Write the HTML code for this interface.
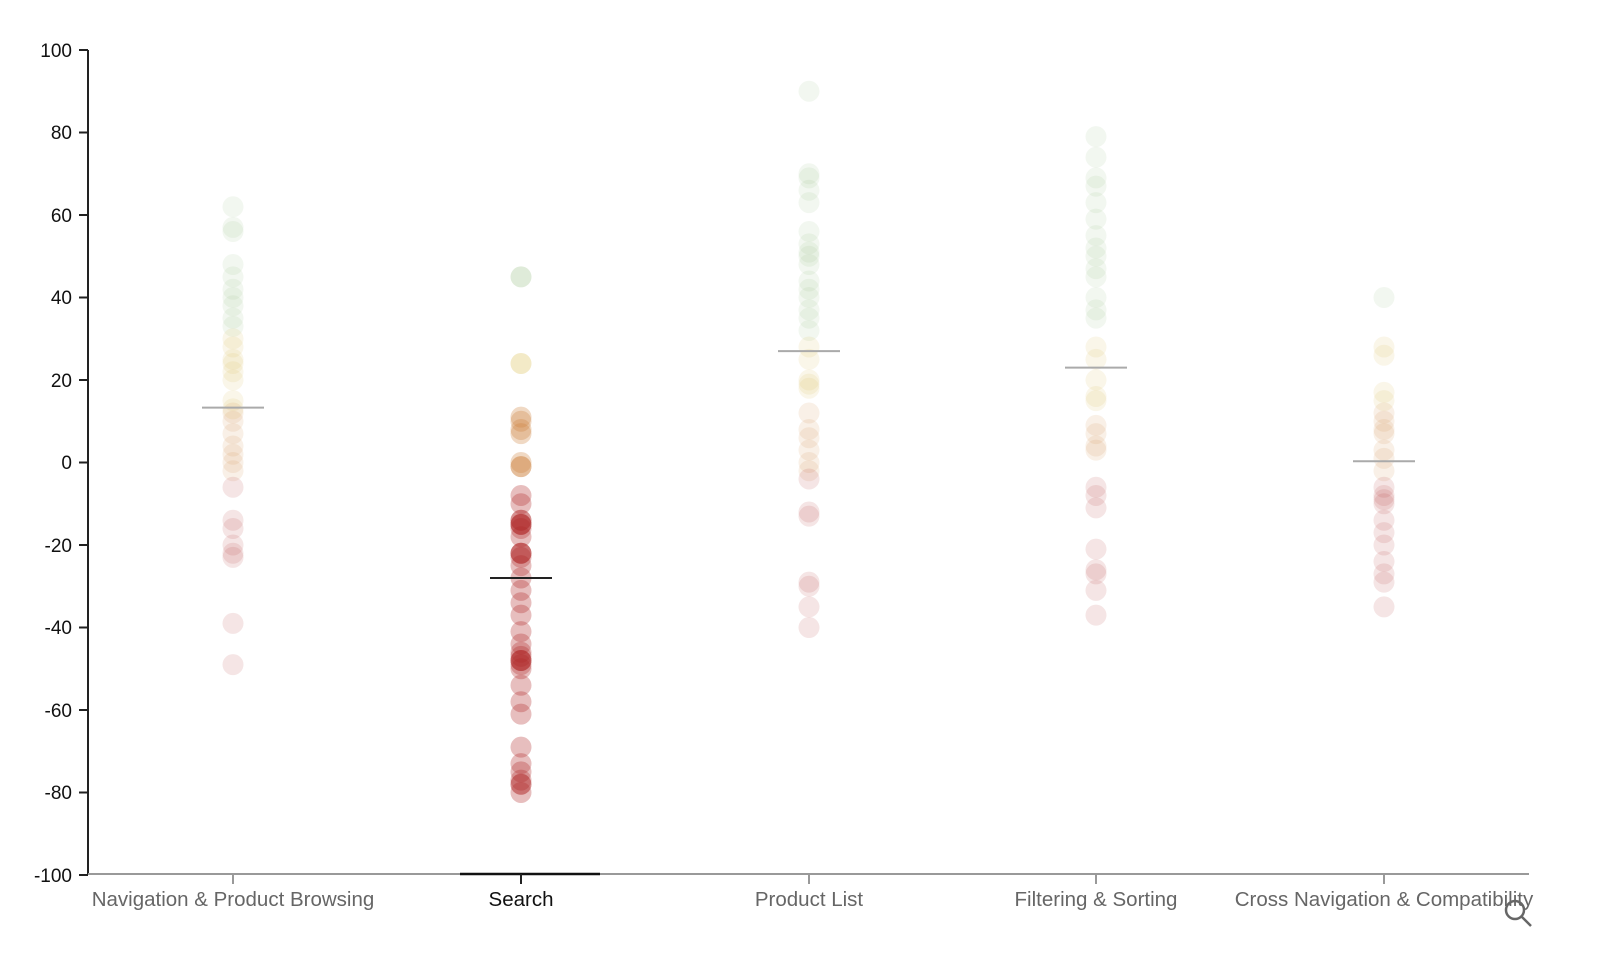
<!DOCTYPE html>
<html><head><meta charset="utf-8"><style>
html,body{margin:0;padding:0;background:#fff;width:1600px;height:960px;overflow:hidden}
svg text{font-family:"Liberation Sans",Arial,sans-serif}
</style></head><body>
<svg id="s" width="1600" height="960" xmlns="http://www.w3.org/2000/svg">
<g id="dots"></g>
<line x1="88" y1="50" x2="88" y2="875" stroke="#222" stroke-width="2"/>
<g stroke="#222" stroke-width="2">
<line x1="79" y1="50" x2="88" y2="50"/><line x1="79" y1="132.5" x2="88" y2="132.5"/>
<line x1="79" y1="215" x2="88" y2="215"/><line x1="79" y1="297.5" x2="88" y2="297.5"/>
<line x1="79" y1="380" x2="88" y2="380"/><line x1="79" y1="462.5" x2="88" y2="462.5"/>
<line x1="79" y1="545" x2="88" y2="545"/><line x1="79" y1="627.5" x2="88" y2="627.5"/>
<line x1="79" y1="710" x2="88" y2="710"/><line x1="79" y1="792.5" x2="88" y2="792.5"/>
<line x1="79" y1="875" x2="88" y2="875"/>
</g>
<g font-size="19" fill="#111" text-anchor="end">
<text x="72" y="57">100</text><text x="72" y="139">80</text><text x="72" y="222">60</text>
<text x="72" y="304">40</text><text x="72" y="387">20</text><text x="72" y="469">0</text>
<text x="72" y="552">-20</text><text x="72" y="634">-40</text><text x="72" y="717">-60</text>
<text x="72" y="799">-80</text><text x="72" y="882">-100</text>
</g>
<line x1="88" y1="874" x2="1529" y2="874" stroke="#999" stroke-width="2"/>
<line x1="460" y1="874" x2="600" y2="874" stroke="#111" stroke-width="2.5"/>
<g stroke="#999" stroke-width="2">
<line x1="233" y1="874" x2="233" y2="884"/><line x1="521" y1="874" x2="521" y2="884" stroke="#222"/>
<line x1="809" y1="874" x2="809" y2="884"/><line x1="1096" y1="874" x2="1096" y2="884"/>
<line x1="1384" y1="874" x2="1384" y2="884"/>
</g>
<g font-size="20.5" fill="#666" text-anchor="middle">
<text x="233" y="906">Navigation &amp; Product Browsing</text>
<text x="521" y="906" fill="#111">Search</text>
<text x="809" y="906">Product List</text>
<text x="1096" y="906">Filtering &amp; Sorting</text>
<text x="1384" y="906">Cross Navigation &amp; Compatibility</text>
</g>
<g stroke="#666" stroke-width="2.5" fill="none">
<circle cx="1515" cy="910" r="9"/><line x1="1522" y1="917" x2="1531" y2="926"/>
</g>
</svg>
<script>
var Y=function(v){return 462.5-v*4.125};
var data=[
[233,13.3,false,[62,57,56,48,45,42,40,38,35,33,30,28,25,24,22,20,15,13,12,10,7,4,2,0,-2,-6,-14,-16,-20,-22,-23,-39,-49]],
[521,-28,true,[45,24,11,10,8,7,0,-1,-1,-8,-10,-14,-15,-15,-15,-16,-14,-18,-22,-22,-22,-23,-25,-28,-31,-34,-37,-41,-44,-46,-47,-48,-48,-48,-49,-50,-54,-58,-61,-69,-73,-75,-77,-78,-78,-80]],
[809,27,false,[90,70,69,66,63,56,53,51,50,48,44,42,40,37,35,32,28,25,20,19,18,12,8,6,3,0,-2,-4,-12,-13,-29,-30,-35,-40]],
[1096,23,false,[79,74,69,67,63,59,55,52,50,47,45,40,37,35,28,25,20,16,15,9,7,4,3,-6,-8,-11,-21,-26,-27,-31,-37]],
[1384,0.3,false,[40,28,26,17,15,12,10,8,7,3,1,-2,-6,-8,-9,-10,-14,-17,-20,-24,-27,-29,-35]]];
function col(v){if(v>30)return"150,190,130";if(v>12)return"215,185,70";if(v>-4)return"205,130,60";return"175,40,40";}
var h="";
data.forEach(function(d){
 var op=d[2]?0.3:0.12;
 d[3].forEach(function(v){h+='<circle cx="'+d[0]+'" cy="'+Y(v)+'" r="10.5" fill="rgba('+col(v)+','+op+')"/>';});
 h+='<line x1="'+(d[0]-31)+'" x2="'+(d[0]+31)+'" y1="'+Y(d[1])+'" y2="'+Y(d[1])+'" stroke="'+(d[2]?'#222':'#aaa')+'" stroke-width="2"/>';
});
document.getElementById("dots").innerHTML=h;
</script>
</body></html>
